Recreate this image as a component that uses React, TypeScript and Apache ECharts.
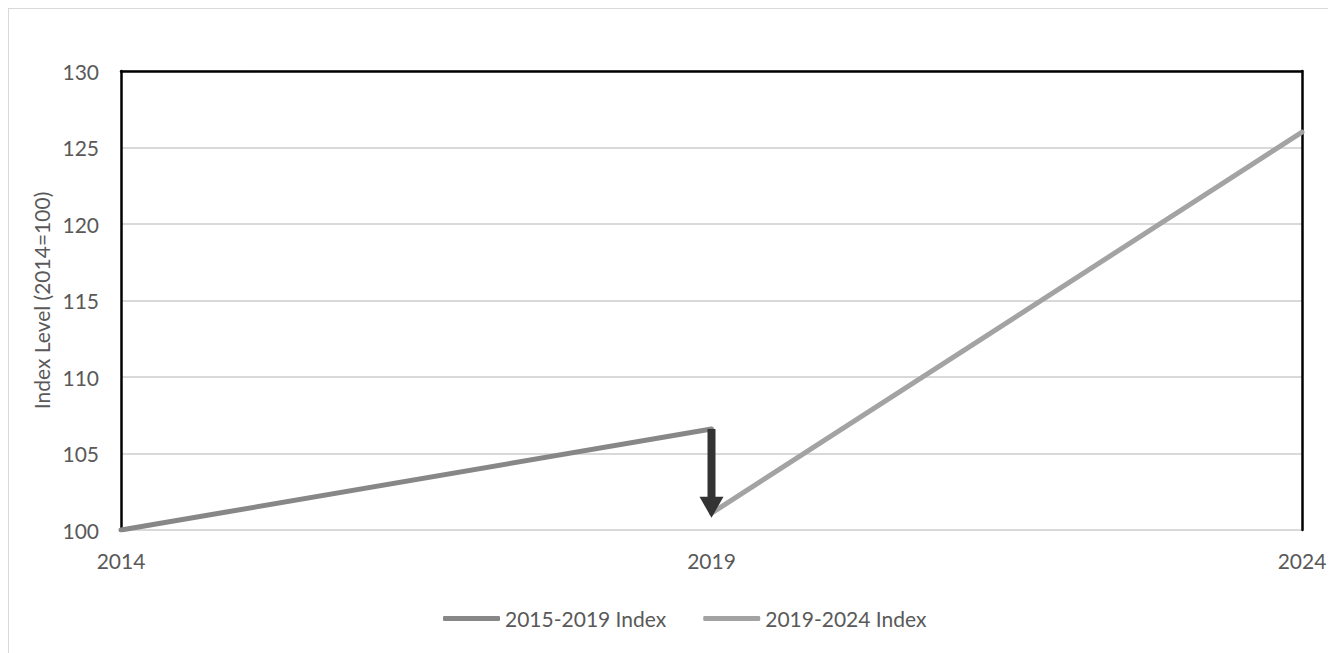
import React, { useEffect, useRef } from "react";
import * as echarts from "echarts";

// Years on the horizontal axis (labels shown every 5 years)
const years = ["2014", "2015", "2016", "2017", "2018", "2019", "2020", "2021", "2022", "2023", "2024"];

// Index levels (2014 = 100)
const index2015to2019Years = ["2014", "2019"];
const index2015to2019Values = [100, 106.6];
const index2019to2024Years = ["2019", "2024"];
const index2019to2024Values = [101.1, 126.0];

// Rebasing step at 2019: from the old index level down to the new base
const rebaseYear = "2019";
const rebaseFrom = 106.6;
const rebaseTo = 100.8;

const seriesNames = ["2015-2019 Index", "2019-2024 Index"];
const yMin = 100;
const yMax = 130;
const yStep = 5;

const FONT = "Lato";
const TEXT = "#595959";

export default function App() {
  const ref = useRef<HTMLDivElement>(null);

  useEffect(() => {
    document.body.style.overflow = "hidden";
    if (!ref.current) return;
    const chart = echarts.init(ref.current, undefined, { renderer: "svg" });

    const toPairs = (xs: string[], vs: number[]) => xs.map((x, i) => [years.indexOf(x), vs[i]]);

    chart.setOption({
      animation: false,
      textStyle: { fontFamily: FONT, color: TEXT },
      grid: { left: 112, right: 34, top: 62, bottom: 123, containLabel: false },
      legend: {
        data: seriesNames,
        bottom: 19,
        left: 429,
        icon: "roundRect",
        itemWidth: 57,
        itemHeight: 5,
        itemGap: 37,
        textStyle: { fontFamily: FONT, fontSize: 21, color: TEXT },
      },
      xAxis: [
        {
          type: "category",
          data: years,
          boundaryGap: false,
          axisLine: { show: false },
          axisTick: { show: false },
          splitLine: { show: false },
          axisLabel: {
            interval: (i: number) => i % 5 === 0,
            margin: 20,
            fontFamily: FONT,
            fontSize: 21,
            color: TEXT,
          },
        },
        {
          type: "category",
          data: years,
          position: "top",
          boundaryGap: false,
          axisLine: { show: true, lineStyle: { color: "#000", width: 2.5 } },
          axisTick: { show: false },
          axisLabel: { show: false },
          splitLine: { show: false },
        },
      ],
      yAxis: [
        {
          type: "value",
          min: yMin,
          max: yMax,
          interval: yStep,
          name: "Index Level (2014=100)",
          nameLocation: "middle",
          nameGap: 59,
          nameTextStyle: { fontFamily: FONT, fontSize: 21, color: TEXT },
          axisLine: { show: true, lineStyle: { color: "#000", width: 2.5 } },
          axisTick: { show: false },
          axisLabel: { margin: 22, fontFamily: FONT, fontSize: 21, color: TEXT },
          splitLine: { show: true, lineStyle: { color: "#d9d9d9", width: 2 } },
        },
        {
          type: "value",
          min: yMin,
          max: yMax,
          interval: yStep,
          position: "right",
          axisLine: { show: true, lineStyle: { color: "#000", width: 2.5 } },
          axisTick: { show: false },
          axisLabel: { show: false },
          splitLine: { show: false },
        },
      ],
      series: [
        {
          name: seriesNames[0],
          type: "line",
          data: toPairs(index2015to2019Years, index2015to2019Values),
          showSymbol: false,
          symbol: "none",
          lineStyle: { color: "#878787", width: 5, cap: "round", join: "round" },
          itemStyle: { color: "#878787" },
          z: 3,
        },
        {
          name: seriesNames[1],
          type: "line",
          data: toPairs(index2019to2024Years, index2019to2024Values),
          showSymbol: false,
          symbol: "none",
          lineStyle: { color: "#a3a3a3", width: 5, cap: "round", join: "round" },
          itemStyle: { color: "#a3a3a3" },
          z: 3,
        },
        {
          name: "rebase",
          type: "custom",
          data: [[years.indexOf(rebaseYear), rebaseFrom, rebaseTo]],
          encode: { x: 0, y: [1, 2] },
          z: 5,
          silent: true,
          renderItem: (params: any, api: any) => {
            const top = api.coord([api.value(0), api.value(1)]);
            const tip = api.coord([api.value(0), api.value(2)]);
            const headH = 21;
            const headW = 24;
            const shaftW = 8;
            const baseY = tip[1] - headH;
            return {
              type: "group",
              children: [
                {
                  type: "rect",
                  shape: { x: top[0] - shaftW / 2, y: top[1], width: shaftW, height: baseY - top[1] + 1 },
                  style: { fill: "#333333" },
                },
                {
                  type: "polygon",
                  shape: {
                    points: [
                      [tip[0] - headW / 2, baseY],
                      [tip[0] + headW / 2, baseY],
                      [tip[0], tip[1]],
                    ],
                  },
                  style: { fill: "#333333" },
                },
              ],
            };
          },
        },
      ],
    });

    return () => chart.dispose();
  }, []);

  return (
    <div style={{ borderLeft: "1px solid #d9d9d9", borderTop: "1px solid #d9d9d9", width: 1327, height: 644 }}>
      <div ref={ref} style={{ width: 1327, height: 644 }} />
    </div>
  );
}
